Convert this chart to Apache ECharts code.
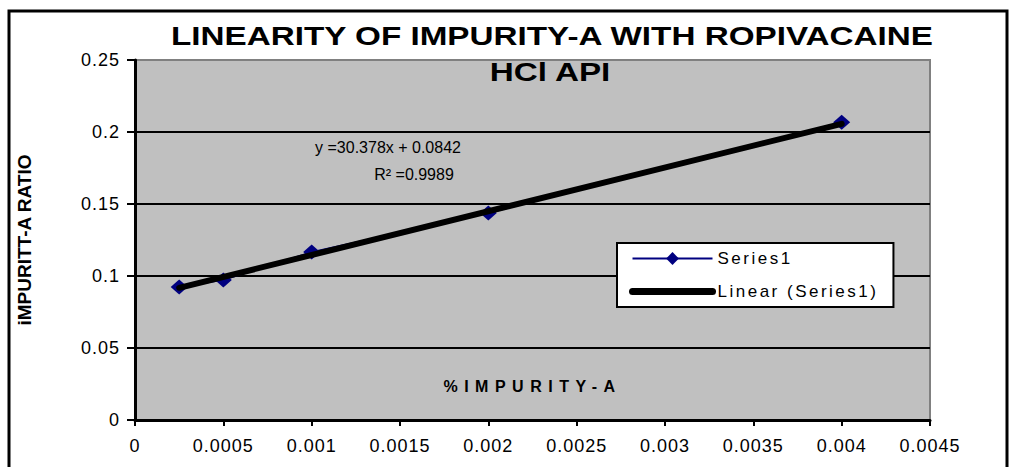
<!DOCTYPE html>
<html><head><meta charset="utf-8">
<script src="https://cdn.jsdelivr.net/npm/echarts@6/dist/echarts.min.js"></script>
<style>html,body{margin:0;padding:0;background:#fff}#chart{width:1012px;height:467px}</style>
</head><body><div id="chart"></div>
<script>
const titleLines = ['LINEARITY OF IMPURITY-A WITH ROPIVACAINE', 'HCl API'];
const xValues = [0.00025, 0.0005, 0.001, 0.002, 0.004];
const yValues = [0.0924, 0.0972, 0.1167, 0.1438, 0.2068];
const trendX = [0.00025, 0.004];
const trendY = [0.0918, 0.2057];
const xTickLabels = ['0', '0.0005', '0.001', '0.0015', '0.002', '0.0025', '0.003', '0.0035', '0.004', '0.0045'];
const yTickLabels = ['0', '0.05', '0.1', '0.15', '0.2', '0.25'];
const seriesNames = ['Series1', 'Linear (Series1)'];
const equationText = 'y =30.378x + 0.0842';
const r2Text = 'R\u00B2 =0.9989';
const xAxisName = '%IMPURITY-A';
const yAxisName = 'iMPURITT-A RATIO';

const FONT = '"Liberation Sans", Arial, sans-serif';
const chart = echarts.init(document.getElementById('chart'), null, {renderer: 'svg'});

const option = {
  animation: false,
  backgroundColor: '#fff',
  grid: {left: 135, right: 82, top: 60, bottom: 47, show: true,
    backgroundColor: '#C0C0C0', borderColor: '#808080', borderWidth: 2},
  xAxis: {
    type: 'value', min: 0, max: 0.0045, interval: 0.0005,
    axisLine: {lineStyle: {color: '#000', width: 3}},
    axisTick: {show: true, length: 6, lineStyle: {color: '#000', width: 2}},
    axisLabel: {margin: 17, fontFamily: FONT, fontSize: 18, color: '#000',
      formatter: (v, i) => xTickLabels[i]},
    splitLine: {show: false},
    name: xAxisName, nameLocation: 'middle', nameGap: -42,
    nameTextStyle: {fontFamily: FONT, fontWeight: 'bold', fontSize: 16, color: '#000'}
  },
  yAxis: {
    type: 'value', min: 0, max: 0.25, interval: 0.05,
    axisLine: {show: true, lineStyle: {color: '#000', width: 3}},
    axisTick: {show: true, length: 8, lineStyle: {color: '#000', width: 2}},
    axisLabel: {margin: 15, fontFamily: FONT, fontSize: 18, color: '#000',
      formatter: (v, i) => yTickLabels[i]},
    splitLine: {show: true, lineStyle: {color: ['#000', '#000', '#000', '#000', '#000', '#808080'], width: 2}},
    name: yAxisName, nameLocation: 'middle', nameGap: 101,
    nameTextStyle: {fontFamily: FONT, fontWeight: 'bold', fontSize: 19, color: '#000'}
  },
  legend: {
    orient: 'vertical', left: 617, top: 243,
    backgroundColor: '#fff', borderColor: '#000', borderWidth: 2,
    padding: [7, 55, 7, 12], itemWidth: 80, itemHeight: 16, itemGap: 16,
    textStyle: {fontFamily: FONT, fontSize: 17, color: '#000'},
    data: [
      {name: seriesNames[0]},
      {name: seriesNames[1], lineStyle: {width: 7, cap: 'round', color: '#000'},
        itemStyle: {color: 'rgba(0,0,0,0)', borderWidth: 0, opacity: 0}}
    ]
  },
  series: [
    {name: seriesNames[0], type: 'line', data: xValues.map((x, i) => [x, yValues[i]]),
      symbol: 'diamond', symbolSize: [17, 15], z: 2,
      lineStyle: {color: '#000080', width: 1.5}, itemStyle: {color: '#000080'}},
    {name: seriesNames[1], type: 'line', data: trendX.map((x, i) => [x, trendY[i]]),
      symbol: 'none', z: 3, lineStyle: {color: '#000', width: 6, cap: 'round'}, itemStyle: {color: '#000'}}
  ],
  graphic: [
    {type: 'rect', shape: {x: 9, y: 11, width: 998, height: 480},
      style: {fill: 'none', stroke: '#000', lineWidth: 3}, z: 100},
    {type: 'text', x: 552, y: 36, scaleX: 1.33,
      style: {text: titleLines[0], font: 'bold 25px ' + FONT, fill: '#000', textAlign: 'center', textVerticalAlign: 'middle'}},
    {type: 'text', x: 550, y: 72, scaleX: 1.33,
      style: {text: titleLines[1], font: 'bold 25px ' + FONT, fill: '#000', textAlign: 'center', textVerticalAlign: 'middle'}, z: 10},
    {type: 'text', x: 388, y: 147,
      style: {text: equationText, font: '16px ' + FONT, fill: '#000', textAlign: 'center', textVerticalAlign: 'middle'}, z: 10},
    {type: 'text', x: 414, y: 174,
      style: {text: r2Text, font: '16px ' + FONT, fill: '#000', textAlign: 'center', textVerticalAlign: 'middle'}, z: 10}
  ]
};
chart.setOption(option);

function applySpacing() {
  const texts = document.querySelectorAll('#chart svg text');
  texts.forEach(t => {
    const s = t.textContent;
    if (s === xAxisName) t.setAttribute('letter-spacing', '6.5px');
    else if (seriesNames.includes(s)) t.setAttribute('letter-spacing', '2.5px');
    else if (xTickLabels.includes(s) || yTickLabels.includes(s)) t.setAttribute('letter-spacing', '1px');
  });
}
chart.on('finished', applySpacing);
applySpacing();
setTimeout(applySpacing, 50);
</script></body></html>
